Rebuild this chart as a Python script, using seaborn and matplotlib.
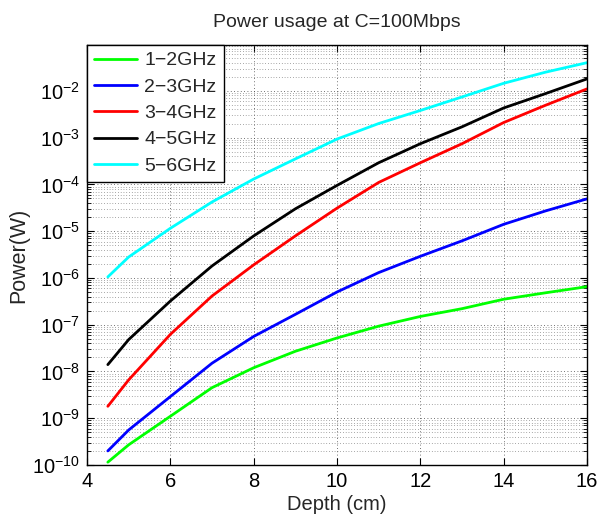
import numpy as np
import pandas as pd
import matplotlib
matplotlib.use("Agg")
import matplotlib.pyplot as plt
import seaborn as sns
from matplotlib.ticker import LogLocator, NullFormatter, FixedLocator

depth = [4.5, 5, 6, 7, 8, 9, 10, 11, 12, 13, 14, 15, 16]
p_1_2 = [1.15e-10, 2.7e-10, 1.1e-9, 4.5e-9, 1.2e-8, 2.7e-8, 5.2e-8, 9.3e-8, 1.5e-7, 2.2e-7, 3.5e-7, 4.8e-7, 6.5e-7]
p_2_3 = [2.0e-10, 5.6e-10, 2.9e-9, 1.5e-8, 5.6e-8, 1.66e-7, 5.0e-7, 1.3e-6, 2.9e-6, 6.2e-6, 1.4e-5, 2.7e-5, 4.9e-5]
p_3_4 = [1.8e-9, 6.6e-9, 6.2e-8, 4.1e-7, 1.9e-6, 7.9e-6, 3.1e-5, 1.1e-4, 2.9e-4, 7.4e-4, 2.1e-3, 4.9e-3, 1.1e-2]
p_4_5 = [1.4e-8, 4.8e-8, 3.2e-7, 1.8e-6, 7.9e-6, 3.0e-5, 9.5e-5, 2.9e-4, 7.4e-4, 1.7e-3, 4.3e-3, 8.7e-3, 1.8e-2]
p_5_6 = [1.05e-6, 2.8e-6, 1.15e-5, 4.2e-5, 1.3e-4, 3.5e-4, 9.3e-4, 2.0e-3, 3.8e-3, 7.4e-3, 1.45e-2, 2.5e-2, 4.0e-2]
series_names = ["1\u22122GHz", "2\u22123GHz", "3\u22124GHz", "4\u22125GHz", "5\u22126GHz"]
colors = ["#00ff00", "#0000ff", "#ff0000", "#000000", "#00ffff"]

frames = []
for name, vals in zip(series_names, [p_1_2, p_2_3, p_3_4, p_4_5, p_5_6]):
    frames.append(pd.DataFrame({"Depth": depth, "Power": vals, "Band": name}))
df = pd.concat(frames, ignore_index=True)

sns.set_style("ticks")
plt.rcParams['font.family'] = ['Liberation Sans', 'DejaVu Sans']
plt.rcParams['mathtext.fontset'] = 'custom'
plt.rcParams['mathtext.rm'] = 'Liberation Sans'

fig = plt.figure(figsize=(5.99, 5.16), dpi=100)
ax = fig.add_axes([87/599, 1 - 465/516, 500/599, 420/516])

sns.lineplot(data=df, x="Depth", y="Power", hue="Band", palette=dict(zip(series_names, colors)),
             hue_order=series_names, linewidth=2, ax=ax, legend=True)

ax.set_yscale("log")
ax.set_xlim(4, 16)
ax.set_ylim(1e-10, 10**-1.02)
ax.set_xticks([4, 6, 8, 10, 12, 14, 16])
ax.yaxis.set_major_locator(FixedLocator([10.0**k for k in range(-10, -1)]))
ax.yaxis.set_minor_locator(LogLocator(base=10, subs=np.arange(2, 10), numticks=30))
ax.yaxis.set_minor_formatter(NullFormatter())

ax.grid(True, which="major", axis="both", color="#444444", linestyle=(0, (1, 3)), linewidth=0.6)
ax.grid(True, which="minor", axis="y", color="#555555", linestyle=(0, (1, 3)), linewidth=0.5)

ax.tick_params(which="both", direction="in", top=True, right=True, labelsize=14.5, colors="black")
ax.tick_params(which="major", length=5, width=0.8, pad=5)
ax.tick_params(which="minor", length=3, width=0.6)
for s in ax.spines.values():
    s.set_linewidth(1.0)
    s.set_color("black")

ax.set_xlabel("Depth (cm)", fontsize=14.5, labelpad=3)
ax.set_ylabel("Power(W)", fontsize=15.5, labelpad=2)
ax.set_title("Power usage at C=100Mbps", fontsize=14, pad=13)

leg = ax.legend(loc="upper left", fontsize=14, frameon=True, fancybox=False, framealpha=1,
                edgecolor="black", borderaxespad=0, handlelength=2.2, handletextpad=0.4,
                labelspacing=0.45, borderpad=0.35)
leg.get_frame().set_linewidth(1.0)
for line in leg.get_lines():
    line.set_linewidth(2)

fig.savefig("out.png", dpi=100)
